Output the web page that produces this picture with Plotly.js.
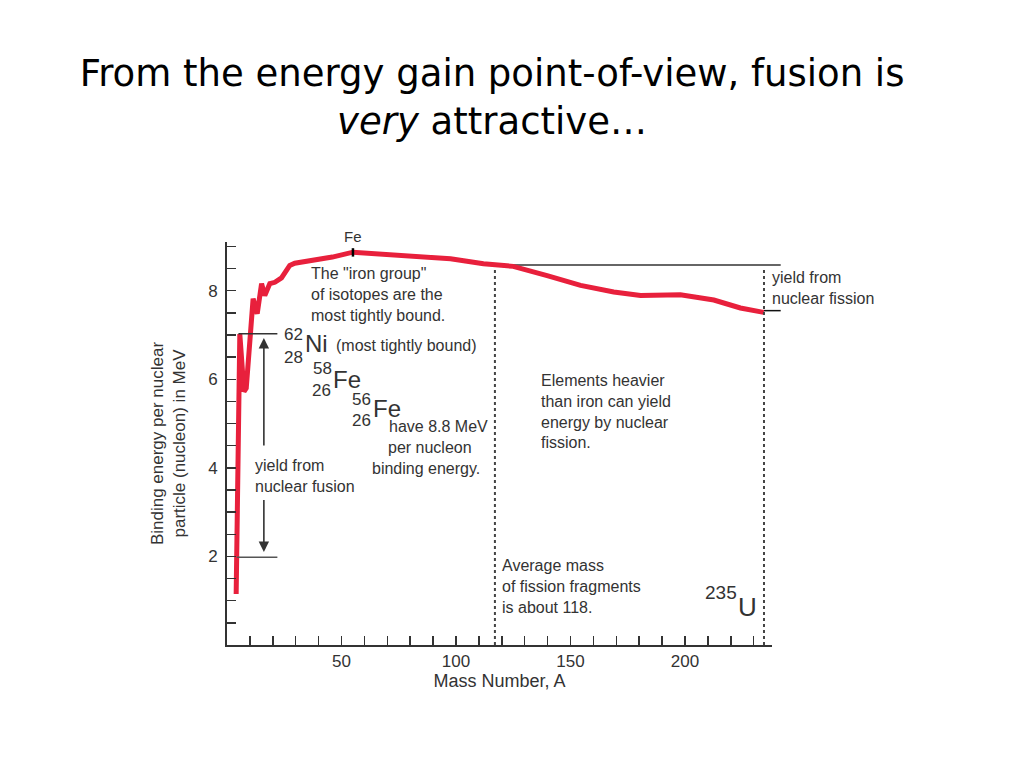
<!DOCTYPE html>
<html>
<head>
<meta charset="utf-8">
<script src="https://cdn.plot.ly/plotly-3.0.1.min.js"></script>
<style>html,body{margin:0;padding:0;background:#fff;}#chart{width:1024px;height:768px;}</style>
</head>
<body>
<div id="chart"></div>
<script>
// ---- data ----
const massNumber = [4, 5.6, 7.4, 8.4, 11.4, 13.2, 15.1, 16.5, 18.7, 20.9, 23.8, 26, 27.4, 29.6, 35, 46, 55, 68, 83, 97.6, 112, 118, 125, 139.8, 154.4, 168.9, 180.6, 198, 212.6, 224.2, 234.4];
const bindingEnergy = [1.15, 7.02, 5.72, 5.8, 7.82, 7.48, 8.16, 7.89, 8.16, 8.19, 8.29, 8.46, 8.57, 8.62, 8.66, 8.76, 8.87, 8.83, 8.79, 8.72, 8.61, 8.57, 8.55, 8.34, 8.12, 7.97, 7.89, 7.91, 7.79, 7.61, 7.51];

const xTickVals = [10, 20, 30, 40, 50, 60, 70, 80, 90, 100, 110, 120, 130, 140, 150, 160, 170, 180, 190, 200, 210, 220, 230];
const xTickText = ['', '', '', '', '50', '', '', '', '', '100', '', '', '', '', '150', '', '', '', '', '200', '', '', ''];
const yTickVals = [0.5, 1, 1.5, 2, 2.5, 3, 3.5, 4, 4.5, 5, 5.5, 6, 6.5, 7, 7.5, 8, 8.5, 9];
const yTickText = ['', '', '', '2', '', '', '', '4', '', '', '', '6', '', '', '', '8', '', ''];

const fissionFragmentA = 117;   // average fission fragment mass line
const uraniumA = 234.5;         // 235U line
const ironA = 55;               // Fe marker
const fissionLevel = 8.58;      // yield-from-fission reference level
const uraniumLevel = 7.55;
const fusionTop = 7.03, fusionBottom = 1.98;

// ---- layout geometry ----
const W = 1024, H = 768;
const M = {l: 227, r: 252, t: 242, b: 123};
const xRange = [0, 238], yRange = [0, 9.1];
const pw = W - M.l - M.r, ph = H - M.t - M.b;
const px = (x) => (x - M.l) / pw;          // pixel -> paper x
const py = (y) => (H - M.b - y) / ph;      // pixel -> paper y
const ax = (a) => (a - xRange[0]) / (xRange[1] - xRange[0]);
const ay = (b) => (b - yRange[0]) / (yRange[1] - yRange[0]);

const txtColor = '#333';
const fam = 'Liberation Sans, Arial, Helvetica, sans-serif';

function note(text, xp, yp, size, xanchor, extra) {
  return Object.assign({
    text: text, xref: 'paper', yref: 'paper', x: px(xp), y: py(yp),
    xanchor: xanchor || 'left', yanchor: 'middle', align: xanchor === 'center' ? 'center' : 'left',
    showarrow: false, font: {family: fam, size: size, color: txtColor}
  }, extra || {});
}

const annotations = [
  note('Fe', 353, 236, 15, 'center'),
  note('The "iron group"<br>of isotopes are the<br>most tightly bound.', 309, 294, 16),
  note('62', 293, 334, 17, 'center'),
  note('28', 293, 357, 17, 'center'),
  note('Ni', 316, 343, 24, 'center'),
  note('(most tightly bound)', 334, 345, 16),
  note('58', 322, 368, 17, 'center'),
  note('26', 321, 390, 17, 'center'),
  note('Fe', 347, 379, 24, 'center'),
  note('56', 361, 399, 17, 'center'),
  note('26', 361, 420, 17, 'center'),
  note('Fe', 387, 408, 24, 'center'),
  note('have 8.8 MeV', 438, 426, 16, 'center'),
  note('per nucleon', 430, 447, 16, 'center'),
  note('binding energy.', 426, 468, 16, 'center'),
  note('yield from<br>nuclear fusion', 253, 476, 16),
  note('Elements heavier<br>than iron can yield<br>energy by nuclear<br>fission.', 539, 411, 16),
  note('Average mass<br>of fission fragments<br>is about 118.', 500, 586, 16),
  note('235', 721, 592, 19, 'center'),
  note('U', 747, 607, 26, 'center'),
  note('yield from<br>nuclear fission', 770, 288, 16),
  // fusion arrows
  {x: 16.1, y: 6.93, ax: 16.1, ay: 4.47, xref: 'x', yref: 'y', axref: 'x', ayref: 'y', text: '',
   showarrow: true, arrowhead: 2, arrowsize: 1.3, arrowwidth: 1.6, arrowcolor: '#333', standoff: 0},
  {x: 16.1, y: 2.1, ax: 16.1, ay: 3.31, xref: 'x', yref: 'y', axref: 'x', ayref: 'y', text: '',
   showarrow: true, arrowhead: 2, arrowsize: 1.3, arrowwidth: 1.6, arrowcolor: '#333', standoff: 0}
];

const shapes = [
  // dotted verticals
  {type: 'line', xref: 'paper', yref: 'paper', x0: ax(fissionFragmentA), x1: ax(fissionFragmentA), y0: 0, y1: ay(8.5),
   line: {color: '#444', width: 2, dash: 'dot'}},
  {type: 'line', xref: 'paper', yref: 'paper', x0: ax(uraniumA), x1: ax(uraniumA), y0: 0, y1: ay(8.5),
   line: {color: '#444', width: 2, dash: 'dot'}},
  // fission yield level
  {type: 'line', xref: 'paper', yref: 'paper', x0: ax(fissionFragmentA), x1: ax(241.8), y0: ay(fissionLevel), y1: ay(fissionLevel),
   line: {color: '#333', width: 1.5}, layer: 'below'},
  {type: 'line', xref: 'paper', yref: 'paper', x0: ax(uraniumA), x1: ax(241.8), y0: ay(uraniumLevel), y1: ay(uraniumLevel),
   line: {color: '#111', width: 1.5}},
  // fusion bracket levels
  {type: 'line', xref: 'paper', yref: 'paper', x0: ax(5), x1: ax(22), y0: ay(fusionTop), y1: ay(fusionTop),
   line: {color: '#333', width: 1.5}},
  {type: 'line', xref: 'paper', yref: 'paper', x0: ax(4.3), x1: ax(22), y0: ay(fusionBottom), y1: ay(fusionBottom),
   line: {color: '#555', width: 1.5}},
  // Fe marker
  {type: 'line', xref: 'paper', yref: 'paper', x0: ax(ironA), x1: ax(ironA), y0: ay(8.77), y1: ay(8.96),
   line: {color: '#000', width: 2.5}}
];

const trace = {
  x: massNumber, y: bindingEnergy, type: 'scatter', mode: 'lines',
  line: {color: '#e8203c', width: 5}, hoverinfo: 'x+y', cliponaxis: false
};

const axisCommon = {
  showgrid: false, zeroline: false, showline: true, linecolor: '#333', linewidth: 2,
  ticks: 'inside', ticklen: 9, tickwidth: 1.5, tickcolor: '#333', tickmode: 'array',
  tickfont: {family: fam, size: 17, color: '#333'}, fixedrange: true
};

const layout = {
  width: W, height: H, margin: M, paper_bgcolor: '#fff', plot_bgcolor: '#fff', showlegend: false,
  title: {
    text: 'From the energy gain point-of-view, fusion is<br><i>very</i> attractive…',
    x: 0.4805, xanchor: 'center', y: 1 - 86 / H, yanchor: 'top',
    font: {family: 'DejaVu Sans, sans-serif', size: 37, color: '#000'}
  },
  xaxis: Object.assign({}, axisCommon, {
    range: xRange, tickvals: xTickVals, ticktext: xTickText,
    title: {text: 'Mass Number, A', standoff: 3, font: {family: fam, size: 18, color: '#333'}}
  }),
  yaxis: Object.assign({}, axisCommon, {
    range: yRange, tickvals: yTickVals, ticktext: yTickText, ticklabelstandoff: 4,
    title: {text: 'Binding energy per nuclear<br>particle (nucleon) in MeV', standoff: 18,
            font: {family: fam, size: 17, color: '#333'}}
  }),
  annotations: annotations, shapes: shapes
};

Plotly.newPlot('chart', [trace], layout, {displayModeBar: false, staticPlot: true});
</script>
</body>
</html>
